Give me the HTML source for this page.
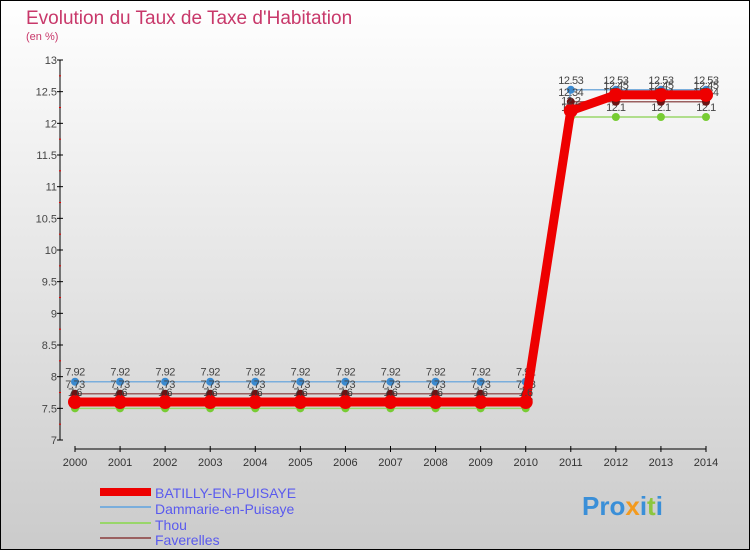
<!DOCTYPE html>
<html><head><meta charset="utf-8"><style>
html,body{margin:0;padding:0}
body{width:750px;height:550px;overflow:hidden;font-family:"Liberation Sans",sans-serif}
</style></head><body>
<svg width="750" height="550" xmlns="http://www.w3.org/2000/svg">
<defs><linearGradient id="bg" x1="0" y1="0" x2="0" y2="1"><stop offset="0" stop-color="#ffffff"/><stop offset="1" stop-color="#cbcbcb"/></linearGradient></defs>
<rect x="0" y="0" width="750" height="550" fill="url(#bg)" stroke="#000" stroke-width="2"/>
<text x="26" y="24" font-size="19" fill="#c8386a">Evolution du Taux de Taxe d'Habitation</text>
<text x="26" y="40" font-size="11" fill="#c8386a">(en %)</text>
<g id="axes"></g><g id="series"></g>
<g>
<g><rect x="100" y="488" width="51" height="8" fill="#e00"/><text x="155" y="498" font-size="14" fill="#5a5aee">BATILLY-EN-PUISAYE</text></g>
<g><line x1="100" y1="507" x2="151" y2="507" stroke="#7aaedc" stroke-width="2"/><text x="155" y="514" font-size="14" fill="#5a5aee">Dammarie-en-Puisaye</text></g>
<g><line x1="100" y1="523" x2="151" y2="523" stroke="#99d66a" stroke-width="2"/><text x="155" y="530" font-size="14" fill="#5a5aee">Thou</text></g>
<g><line x1="100" y1="538" x2="151" y2="538" stroke="#9a6060" stroke-width="2"/><text x="155" y="545" font-size="14" fill="#5a5aee">Faverelles</text></g>
</g>
<g><text x="582" y="515" font-size="26" font-weight="bold" fill="#3a8fd8">Pro<tspan fill="#f39a1e">x</tspan>i<tspan fill="#8cc63f">t</tspan>i</text></g>
</svg>
<script>
const years=[2000,2001,2002,2003,2004,2005,2006,2007,2008,2009,2010,2011,2012,2013,2014];
const batilly=[7.6,7.6,7.6,7.6,7.6,7.6,7.6,7.6,7.6,7.6,7.6,12.2,12.45,12.45,12.45];
const dammarie=[7.92,7.92,7.92,7.92,7.92,7.92,7.92,7.92,7.92,7.92,7.92,12.53,12.53,12.53,12.53];
const thou=[7.5,7.5,7.5,7.5,7.5,7.5,7.5,7.5,7.5,7.5,7.5,12.1,12.1,12.1,12.1];
const faverelles=[7.73,7.73,7.73,7.73,7.73,7.73,7.73,7.73,7.73,7.73,7.73,12.34,12.34,12.34,12.34];
const yTicks=[7,7.5,8,8.5,9,9.5,10,10.5,11,11.5,12,12.5,13];
const NS="http://www.w3.org/2000/svg";
const X=i=>75+i*(706-75)/(years.length-1);
const Y=v=>440-(v-7)*(380/6);
function mk(t,a,p){const e=document.createElementNS(NS,t);for(const k in a)e.setAttribute(k,a[k]);p.appendChild(e);return e;}
const ax=document.getElementById('axes');
const yl=mk('line',{x1:60,y1:60,x2:60,y2:440,stroke:'#000'},ax);


yTicks.forEach(v=>{
 mk('line',{x1:57,y1:Y(v),x2:63,y2:Y(v),stroke:'#000'},ax);
 if(v<13)mk('line',{x1:59,y1:Y(v+0.25),x2:61,y2:Y(v+0.25),stroke:'#e00'},ax);
 const t=mk('text',{x:57,y:Y(v)+4,'font-size':11,'text-anchor':'end',fill:'#444'},ax);t.textContent=String(v);
 
 
});
const xl=mk('line',{x1:X(0),y1:449,x2:X(years.length-1),y2:449,stroke:'#000'},ax);


years.forEach((y,i)=>{
 mk('line',{x1:X(i),y1:446,x2:X(i),y2:452,stroke:'#000'},ax);
 const t=mk('text',{x:X(i),y:466,'font-size':11,'text-anchor':'middle',fill:'#333'},ax);t.textContent=String(y);
 
 
});
const sg=document.getElementById('series');
function series(vals,color,w,pr,pc,name){
 const g=mk('g',{},sg);
 
 
 mk('polyline',{points:vals.map((v,i)=>X(i)+','+Y(v)).join(' '),fill:'none',stroke:color,'stroke-width':w},g);
 vals.forEach((v,i)=>{
  const c=mk('circle',{cx:X(i),cy:Y(v),r:pr,fill:pc},g);
  
  
  const t=mk('text',{x:X(i),y:Y(v)-6,'font-size':11,'text-anchor':'middle',fill:'#444','letter-spacing':'-0.5'},g);t.textContent=String(v);
 });
}
series(dammarie,'#7aaedc',1.5,4,'#3a8ad0','series-dammarie');
series(thou,'#99d66a',1.5,4,'#77cc33','series-thou');
series(faverelles,'#9a6060',1.5,4,'#6a1515','series-faverelles');
series(batilly,'#e00',9,7,'#e00','series-batilly');
</script>
</body></html>
